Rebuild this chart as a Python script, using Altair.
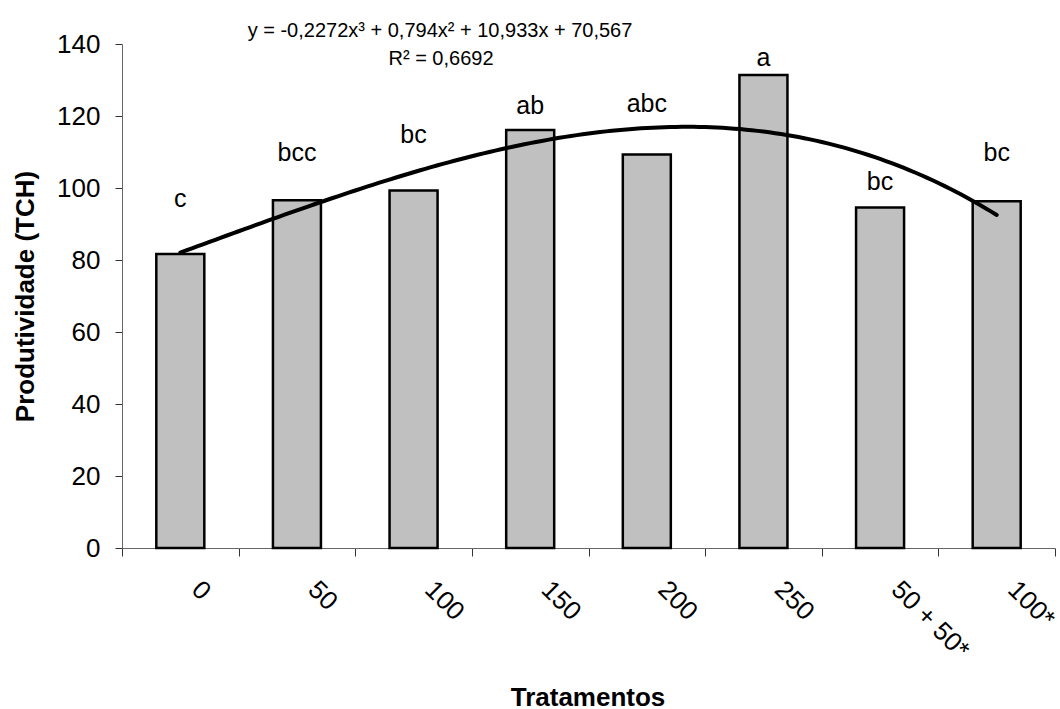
import altair as alt
import pandas as pd

# Treatments, yield means and Tukey letters
tratamentos = ["0", "50", "100", "150", "200", "250", "50 + 50*", "100*"]
produtividade = [81.7, 96.6, 99.3, 116.1, 109.3, 131.4, 94.6, 96.3]
letras = ["c", "bcc", "bc", "ab", "abc", "a", "bc", "bc"]
letras_y = [94.8, 107.6, 112.5, 120.5, 121.0, 133.8, 99.5, 107.6]

# Cubic trend fitted over treatment index 1..8
coef = [-0.2272, 0.794, 10.933, 70.567]
equacao = "y = -0,2272x³ + 0,794x² + 10,933x + 70,567"
r2 = "R² = 0,6692"

FONT = "Liberation Sans"
W, H = 933, 504

df = pd.DataFrame({
    "trat": tratamentos,
    "prod": produtividade,
    "letra": letras,
    "letra_y": letras_y,
})

y_scale = alt.Scale(domain=[0, 140], nice=False, zero=True)

x_band = alt.X(
    "trat:N",
    sort=tratamentos,
    scale=alt.Scale(paddingInner=0, paddingOuter=0),
    axis=alt.Axis(
        title="Tratamentos",
        titleFont=FONT,
        titleFontSize=26,
        titleFontWeight="bold",
        titleColor="black",
        titleX=W / 2 - 1,
        titleY=157,
        titleBaseline="alphabetic",
        labelFont=FONT,
        labelFontSize=26,
        labelColor="black",
        labelAngle=45,
        labelAlign="left",
        labelBaseline="middle",
        labelOffset=15,
        labelPadding=29,
        labelOverlap=False,
        tickBand="extent",
        tickSize=8,
        tickColor="#333333",
        domainColor="#666666",
        grid=False,
    ),
)

y_enc = alt.Y(
    "prod:Q",
    scale=y_scale,
    axis=alt.Axis(
        title="Produtividade (TCH)",
        titleFont=FONT,
        titleFontSize=26,
        titleFontWeight="bold",
        titleColor="black",
        titleAngle=-90,
        titleX=-89,
        titleY=H / 2,
        titleBaseline="alphabetic",
        titleAlign="center",
        values=list(range(0, 141, 20)),
        labelFont=FONT,
        labelFontSize=26,
        labelColor="black",
        labelPadding=15,
        tickSize=7,
        tickColor="#333333",
        domainColor="#666666",
        grid=False,
    ),
)

base = alt.Chart(df)

bars = base.mark_bar(
    width=48, color="#C0C0C0", stroke="black", strokeWidth=2.5
).encode(x=x_band, y=y_enc)

labels = base.mark_text(
    font=FONT, fontSize=25, color="black", baseline="alphabetic", align="center"
).encode(
    x=alt.X("trat:N", sort=tratamentos),
    y=alt.Y("letra_y:Q", scale=y_scale),
    text="letra:N",
)

bar_layer = alt.layer(bars, labels)

expr = (
    f"{coef[0]}*pow(datum.t,3) + {coef[1]}*pow(datum.t,2) + "
    f"{coef[2]}*datum.t + {coef[3]}"
)
curve = (
    alt.Chart(alt.sequence(1, 8.001, 0.05, as_="t"))
    .transform_calculate(yhat=expr)
    .mark_line(color="black", strokeWidth=4, strokeCap="round", clip=False)
    .encode(
        x=alt.X("t:Q", scale=alt.Scale(domain=[0.5, 8.5], nice=False, zero=False), axis=None),
        y=alt.Y("yhat:Q", scale=y_scale),
    )
)

eq_style = dict(font=FONT, fontSize=20, color="black", baseline="alphabetic", align="center")
eq_line = alt.Chart(df).mark_text(text=equacao, **eq_style).encode(
    x=alt.value(318), y=alt.value(-7)
).transform_filter(alt.datum.trat == "0")
r2_line = alt.Chart(df).mark_text(text=r2, **eq_style).encode(
    x=alt.value(319), y=alt.value(21)
).transform_filter(alt.datum.trat == "0")

chart = (
    alt.layer(bar_layer, curve, eq_line, r2_line)
    .resolve_scale(x="independent", y="shared")
    .properties(
        width=W,
        height=H,
        autosize=alt.AutoSizeParams(type="none"),
        padding={"left": 122, "top": 44, "right": 5, "bottom": 161},
        background="white",
    )
    .configure_view(stroke=None)
)

chart.save("out.html", embed_options={"renderer": "svg", "actions": False})
